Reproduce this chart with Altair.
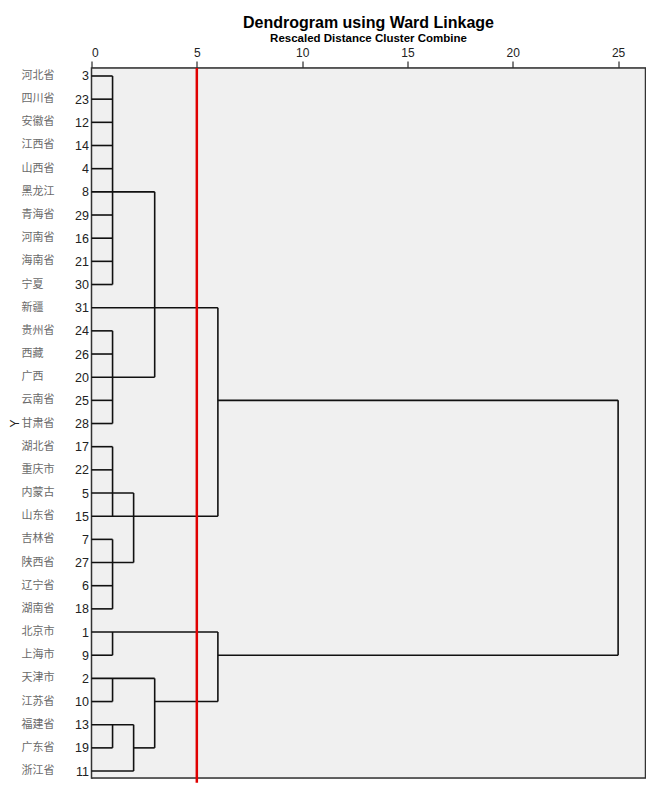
import altair as alt
import pandas as pd

# ---- data ----
leaf_ids = [3, 23, 12, 14, 4, 8, 29, 16, 21, 30, 31, 24, 26, 20, 25, 28,
            17, 22, 5, 15, 7, 27, 6, 18, 1, 9, 2, 10, 13, 19, 11]
leaf_names = ["河北省", "四川省", "安徽省", "江西省", "山西省", "黑龙江", "青海省",
              "河南省", "海南省", "宁夏", "新疆", "贵州省", "西藏", "广西", "云南省",
              "甘肃省", "湖北省", "重庆市", "内蒙古", "山东省", "吉林省", "陕西省",
              "辽宁省", "湖南省", "北京市", "上海市", "天津市", "江苏省", "福建省",
              "广东省", "浙江省"]
# distance each leaf's horizontal line reaches
leaf_reach = [1, 1, 1, 1, 1, 3, 1, 1, 1, 1, 6, 1, 1, 3, 1, 1,
              1, 1, 2, 6, 1, 2, 1, 1, 6, 1, 3, 1, 2, 1, 2]
# extra horizontal links (row, from, to)
link_row = [14, 25, 27, 29]
link_from = [6, 6, 3, 2]
link_to = [25, 25, 6, 3]
# vertical joins (height, first row, last row)
join_height = [1, 1, 1, 1, 1, 1, 1, 3, 3, 2, 2, 6, 6, 25]
join_from = [0, 11, 16, 20, 24, 26, 28, 5, 26, 18, 28, 10, 24, 14]
join_to = [9, 15, 19, 23, 25, 27, 29, 13, 29, 21, 30, 19, 27, 25]
cut_value = 5
x_ticks = [0, 5, 10, 15, 20, 25]

# ---- tables ----
rows = list(range(len(leaf_ids)))
leaves = pd.DataFrame({"row": rows, "id": leaf_ids, "name": leaf_names})
hseg = pd.DataFrame({
    "row": rows + link_row,
    "x0": [0] * len(rows) + link_from,
    "x1": leaf_reach + link_to,
})
vseg = pd.DataFrame({"x": join_height, "r0": join_from, "r1": join_to})
cut = pd.DataFrame({"x": [cut_value], "r0": [-0.345], "r1": [30.5]})

W, H = 554, 710
xscale = alt.Scale(domain=[0, 26.3], nice=False, zero=False)
yscale = alt.Scale(domain=[-0.345, 30.3], nice=False, zero=False, reverse=True)

label_arr = "[" + ",".join("'%d'" % v for v in leaf_ids) + "]"

xaxis = alt.Axis(orient="top", values=x_ticks, title=None, tickSize=7,
                 tickColor="#000", domainColor="#000", domainWidth=1.5,
                 labelFont="Liberation Sans", labelFontSize=12, labelColor="#222",
                 labelPadding=2, grid=True, gridDash=[4, 3], gridColor="#c8c8c8",
                 gridWidth=1, labelOverlap=False)
yaxis = alt.Axis(values=rows, labelExpr=label_arr + "[datum.value]", ticks=False,
                 grid=False, domainColor="#000", domainWidth=1.5,
                 labelOverlap=False, labelFlush=False,
                 labelFont="Liberation Sans", labelFontSize=12.5, labelColor="#222",
                 labelPadding=3, title="Y", titleFont="Liberation Sans",
                 titleFontSize=12, titleFontWeight="normal", titleColor="#222",
                 titleX=-77, titleY=H / 2, titleAngle=270,
                 titleAlign="center", titleBaseline="middle")

panel = alt.Chart(pd.DataFrame({"a": [0]})).mark_rect(
    fill="#f0f0f0", stroke="#333", strokeWidth=1.5
).encode(x=alt.value(0), x2=alt.value(W), y=alt.value(0), y2=alt.value(H))

base_h = alt.Chart(hseg).mark_rule(color="#111", strokeWidth=1.6).encode(
    x=alt.X("x0:Q", scale=xscale, axis=xaxis),
    x2="x1:Q",
    y=alt.Y("row:Q", scale=yscale, axis=yaxis),
)
vert = alt.Chart(vseg).mark_rule(color="#111", strokeWidth=1.6).encode(
    x=alt.X("x:Q", scale=xscale, axis=xaxis),
    y=alt.Y("r0:Q", scale=yscale, axis=yaxis),
    y2="r1:Q",
)
red = alt.Chart(cut).mark_rule(color="#e00000", strokeWidth=2.5).encode(
    x=alt.X("x:Q", scale=xscale, axis=xaxis),
    y=alt.Y("r0:Q", scale=yscale, axis=yaxis),
    y2="r1:Q",
)
names = alt.Chart(leaves).mark_text(
    align="left", baseline="middle", font="Noto Sans CJK SC", fontSize=11,
    color="#6a6a6a"
).encode(
    x=alt.value(-70),
    y=alt.Y("row:Q", scale=yscale, axis=yaxis),
    text="name:N",
)

chart = alt.layer(panel, base_h, vert, red, names).properties(
    width=W, height=H,
    title=alt.TitleParams(
        "Dendrogram using Ward Linkage",
        subtitle="Rescaled Distance Cluster Combine",
        font="Liberation Sans", fontSize=16, fontWeight="bold", color="#000",
        subtitleFont="Liberation Sans", subtitleFontSize=11.5,
        subtitleFontWeight="bold", subtitleColor="#000",
        anchor="middle", offset=2, subtitlePadding=2,
    ),
    autosize=alt.AutoSizeParams(type="none"),
    padding={"left": 83.5, "top": 60, "right": 0, "bottom": 10},
).configure_view(
    fill="#f0f0f0", stroke="#333", strokeWidth=1.5
).configure(background="white")

chart.save("out.html", embed_options={"renderer": "svg", "actions": False})
